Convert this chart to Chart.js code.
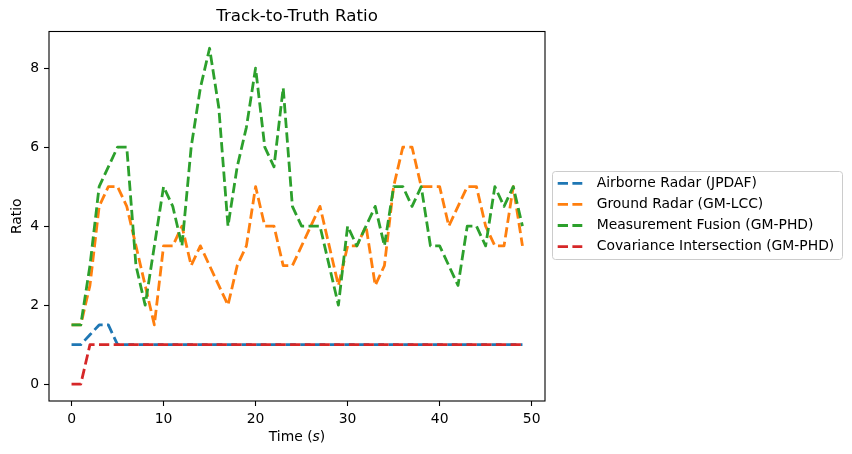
<!DOCTYPE html>
<html>
<head>
<meta charset="utf-8">
<script src="https://cdn.jsdelivr.net/npm/chart.js@4/dist/chart.umd.min.js"></script>
<style>
  html, body { margin: 0; padding: 0; background: #fff; }
  #wrap { width: 852px; height: 454px; }
</style>
</head>
<body>
<div id="wrap"><canvas id="chart" width="852" height="454"></canvas></div>
<script>
// time steps (s)
const times = [0,1,2,3,4,5,6,7,8,9,10,11,12,13,14,15,16,17,18,19,20,21,22,23,24,25,26,27,28,29,30,31,32,33,34,35,36,37,38,39,40,41,42,43,44,45,46,47,48,49]

const airborne = [1,1,1.25,1.5,1.5,1,1,1,1,1,1,1,1,1,1,1,1,1,1,1,1,1,1,1,1,1,1,1,1,1,1,1,1,1,1,1,1,1,1,1,1,1,1,1,1,1,1,1,1,1]
const ground = [1.5,1.5,2.5,4.5,5,5,4.5,3.5,2.5,1.5,3.5,3.5,4,3,3.5,3,2.5,2,3,3.5,5,4,4,3,3,3.5,4,4.5,3.5,2.5,3.5,3.5,4,2.5,3,5,6,6,5,5,5,4,4.5,5,5,4,3.5,3.5,5,3.5]
const fusion = [1.5,1.5,3,5,5.5,6,6,3,2,3.5,5,4.5,3.5,6,7.5,8.5,7,4,5.5,6.5,8,6,5.5,7.5,4.5,4,4,4,3,2,4,3.5,4,4.5,3.5,5,5,4.5,5,3.5,3.5,3,2.5,4,4,3.5,5,4.5,5,4]
const covariance = [0,0,1,1,1,1,1,1,1,1,1,1,1,1,1,1,1,1,1,1,1,1,1,1,1,1,1,1,1,1,1,1,1,1,1,1,1,1,1,1,1,1,1,1,1,1,1,1,1,1]

const seriesNames = ['Airborne Radar (JPDAF)', 'Ground Radar (GM-LCC)', 'Measurement Fusion (GM-PHD)', 'Covariance Intersection (GM-PHD)']
const seriesColors = ['#1f77b4', '#ff7f0e', '#2ca02c', '#d62728']
const xTicks = [0,10,20,30,40,50]
const yTicks = [0,2,4,6,8]
const chartTitle = 'Track-to-Truth Ratio'

const FONT = 'DejaVu Sans'
const DASH = [10.3, 4.4]

function pts(vals) {
  return times.map((t, i) => ({x: t, y: vals[i]}))
}

const allSeries = [airborne, ground, fusion, covariance]
const datasets = allSeries.map((vals, i) => ({
  label: seriesNames[i],
  data: pts(vals),
  borderColor: seriesColors[i],
  backgroundColor: seriesColors[i],
  borderWidth: 2.8,
  borderDash: DASH,
  borderCapStyle: 'butt',
  borderJoinStyle: 'round',
  pointRadius: 0,
  tension: 0,
  fill: false,
  order: allSeries.length - i // later series on top like matplotlib
}))

// title over the axes, frame, x label with italic s, legend box
const extras = {
  id: 'extras',
  afterDatasetsDraw(chart) {
    const ctx = chart.ctx
    const a = chart.chartArea
    const cx = (a.left + a.right) / 2
    ctx.save()
    ctx.strokeStyle = '#000'
    ctx.lineWidth = 1.1
    ctx.setLineDash([])
    ctx.strokeRect(a.left, a.top, a.right - a.left, a.bottom - a.top)

    ctx.fillStyle = '#000'
    ctx.textBaseline = 'middle'
    ctx.textAlign = 'center'
    ctx.font = '16.7px "' + FONT + '"'
    ctx.fillText(chartTitle, cx, 16.7)

    // x axis label
    const p1 = 'Time (', p2 = 's', p3 = ')'
    ctx.font = '13.9px "' + FONT + '"'
    const w1 = ctx.measureText(p1).width, w3 = ctx.measureText(p3).width
    ctx.font = 'italic 13.9px "' + FONT + '"'
    const w2 = ctx.measureText(p2).width
    let x = cx - (w1 + w2 + w3) / 2
    const y = 437
    ctx.textAlign = 'left'
    ctx.font = '13.9px "' + FONT + '"'
    ctx.fillText(p1, x, y)
    ctx.font = 'italic 13.9px "' + FONT + '"'
    ctx.fillText(p2, x + w1, y)
    ctx.font = '13.9px "' + FONT + '"'
    ctx.fillText(p3, x + w1 + w2, y)

    // legend
    const lx = 552.5, ly = 171.5, lw = 290, lh = 88
    ctx.beginPath()
    ctx.roundRect(lx, ly, lw, lh, 3)
    ctx.fillStyle = 'rgba(255,255,255,0.8)'
    ctx.fill()
    ctx.strokeStyle = '#cccccc'
    ctx.lineWidth = 1
    ctx.stroke()
    chart.data.datasets.forEach((ds, i) => {
      const yy = 183.3 + i * 21.1
      ctx.beginPath()
      ctx.setLineDash(DASH)
      ctx.lineCap = 'butt'
      ctx.strokeStyle = ds.borderColor
      ctx.lineWidth = 2.8
      ctx.moveTo(557.7, yy)
      ctx.lineTo(582.3, yy)
      ctx.stroke()
      ctx.setLineDash([])
      ctx.fillStyle = '#000'
      ctx.font = '13.9px "' + FONT + '"'
      ctx.textAlign = 'left'
      ctx.textBaseline = 'middle'
      ctx.fillText(ds.label, 596.7, yy)
    })
    ctx.restore()
  }
}

let chart = new Chart(document.querySelector('#chart'), {
  type: 'line',
  data: { datasets: datasets },
  options: {
    responsive: false,
    animation: false,
    layout: { padding: { left: 0, right: 307, top: 31.5, bottom: 0 } },
    plugins: {
      legend: { display: false },
      tooltip: { enabled: false },
      title: { display: false }
    },
    scales: {
      x: {
        type: 'linear',
        min: -2.45,
        max: 51.45,
        afterBuildTicks: s => { s.ticks = xTicks.map(v => ({value: v})) },
        afterFit: s => { s.height = 53 },
        grid: { drawOnChartArea: false, drawTicks: true, tickLength: 5, tickWidth: 1.1, tickColor: '#000' },
        border: { display: false },
        ticks: { color: '#000', padding: 5, maxRotation: 0, font: { family: FONT, size: 13.9 } }
      },
      y: {
        type: 'linear',
        min: -0.425,
        max: 8.925,
        afterBuildTicks: s => { s.ticks = yTicks.map(v => ({value: v})) },
        afterFit: s => { s.width = 49 },
        grid: { drawOnChartArea: false, drawTicks: true, tickLength: 5, tickWidth: 1.1, tickColor: '#000' },
        border: { display: false },
        ticks: { color: '#000', padding: 5, font: { family: FONT, size: 13.9 } },
        title: {
          display: true,
          text: 'Ratio',
          color: '#000',
          font: { family: FONT, size: 13.9 },
          padding: { top: 8.7, bottom: 0 }
        }
      }
    }
  },
  plugins: [extras]
})
</script>
</body>
</html>
